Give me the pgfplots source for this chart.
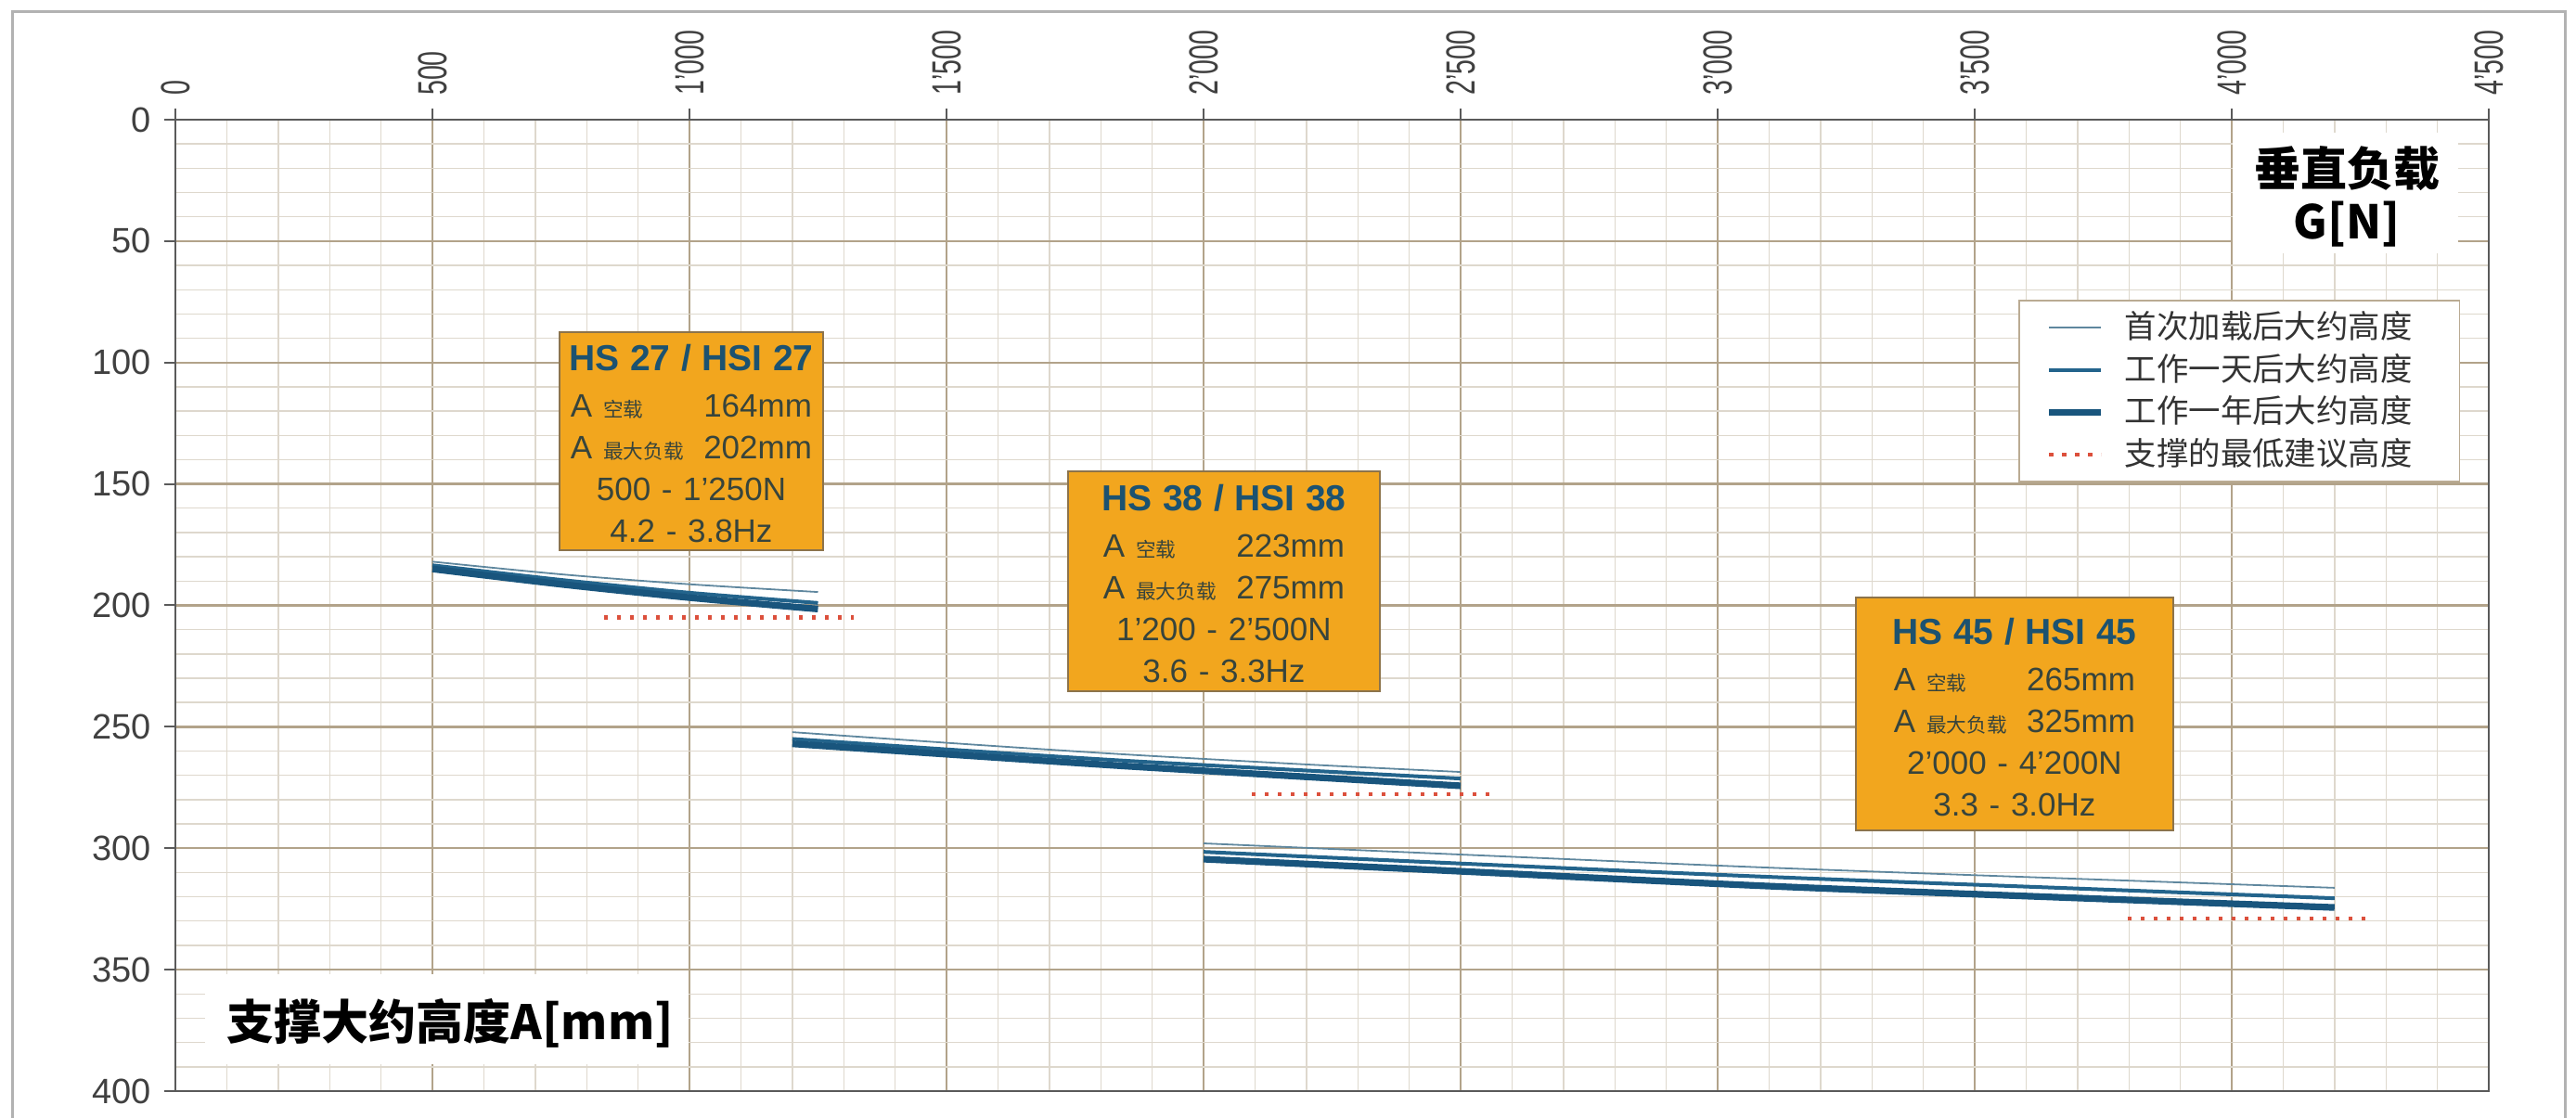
\documentclass[border=0pt]{standalone}
\usepackage{fontspec}
\setmainfont{Liberation Sans}
\newfontfamily\cjk{Noto Sans CJK SC}
\usepackage{graphicx}
\usepackage{pgfplots}
\pgfplotsset{compat=1.18}
\definecolor{gmaj}{RGB}{178,163,138}
\definecolor{gmin}{RGB}{222,216,205}
\definecolor{thinc}{RGB}{95,135,158}
\definecolor{medc}{RGB}{35,100,140}
\definecolor{thickc}{RGB}{25,85,125}
\definecolor{dotc}{RGB}{220,80,60}
\definecolor{boxor}{RGB}{242,166,30}
\definecolor{boxbd}{RGB}{140,115,75}
\definecolor{titc}{RGB}{28,82,112}
\definecolor{bodc}{RGB}{55,68,60}
\definecolor{framec}{RGB}{90,90,90}
\newcommand{\rowA}[2]{\leavevmode\hbox to 65pt{A\hspace{3pt}{\cjk\fontsize{5.4}{6}\selectfont #1}\hfil #2}}
\newcommand{\xl}[1]{\scalebox{0.65}[1]{#1}}
\newcommand{\boxtext}[5]{\mbox{\color{titc}\bfseries\fontsize{9.75}{11}\selectfont #1}\\[1.25pt]\rowA{空载}{#2}\\\rowA{最大负载}{#3}\\#4\\#5}
\begin{document}
\begin{tikzpicture}
\useasboundingbox (0,0) rectangle (694pt,301.25pt);
\draw[gray!60, line width=0.75pt] (3.25pt,-2pt) -- (3.25pt,298pt) -- (691pt,298pt) -- (691pt,-2pt);
\begin{axis}[
  at={(47.25pt,7.25pt)}, anchor=south west,
  scale only axis, width=623.25pt, height=261.75pt,
  xmin=0, xmax=4500, ymin=0, ymax=400, y dir=reverse,
  xtick={0,500,...,4500}, ytick={0,50,...,400},
  minor xtick={0,100,...,4500}, minor ytick={0,10,...,400},
  xticklabels={\xl{0},\xl{500},\xl{1'000},\xl{1'500},\xl{2'000},\xl{2'500},\xl{3'000},\xl{3'500},\xl{4'000},\xl{4'500}},
  yticklabels={0,50,100,150,200,250,300,350,400},
  grid=both,
  major grid style={gmaj, line width=0.6pt},
  minor grid style={gmin, line width=0.35pt},
  xtick pos=upper, xticklabel pos=upper, ytick pos=left,
  tick align=outside, major tick length=3pt, minor tick length=0pt,
  tick style={framec, line width=0.5pt},
  axis line style={framec, line width=0.7pt},
  xticklabel style={rotate=90, anchor=west, font=\fontsize{11}{12}\selectfont, text=black!75},
  yticklabel style={font=\fontsize{9.5}{11}\selectfont, text=black!75},
  legend image code/.code={\draw[#1] (0pt,0pt) -- (14pt,0pt);},
  legend style={at={(0.7966,0.8147)}, anchor=north west, draw=boxbd!60, fill=white,
    font=\cjk\fontsize{8.6}{9.5}\selectfont, text=black!80,
    inner xsep=7.25pt, inner ysep=2pt, row sep=0.6pt, column sep=4.5pt,
    nodes={inner sep=1pt}, cells={anchor=west}},
]
% group 1
\addplot[thinc, line width=0.45pt, smooth] coordinates {(500,182) (750,187.2) (1000,191.3) (1250,194.5)};
\addlegendentry{首次加载后大约高度\hspace*{4.5pt}}
\addplot[medc, line width=1pt, smooth] coordinates {(500,183.5) (750,189.5) (1000,194.8) (1250,199)};
\addlegendentry{工作一天后大约高度\hspace*{4.5pt}}
\addplot[thickc, line width=1.8pt, smooth] coordinates {(500,185) (750,191.3) (1000,196.8) (1250,201.5)};
\addlegendentry{工作一年后大约高度\hspace*{4.5pt}}
\addplot[dotc, line width=1.1pt, dash pattern=on 1.1pt off 2.4pt] coordinates {(834,205) (1319,205)};
\addlegendentry{支撑的最低建议高度\hspace*{4.5pt}}
% group 2
\addplot[thinc, line width=0.45pt, smooth, forget plot] coordinates {(1200,252.2) (1550,257.3) (1850,261.4) (2200,265.5) (2500,268.6)};
\addplot[medc, line width=1pt, smooth, forget plot] coordinates {(1200,255) (1550,260) (1850,264) (2200,268) (2500,271.3)};
\addplot[thickc, line width=1.8pt, smooth, forget plot] coordinates {(1200,257) (1550,262) (1850,266.2) (2200,270.6) (2500,274.3)};
\addplot[dotc, line width=1.1pt, dash pattern=on 1.1pt off 2.4pt, forget plot] coordinates {(2094,277.8) (2573,277.8)};
% group 3
\addplot[thinc, line width=0.45pt, smooth, forget plot] coordinates {(2000,298) (2500,302.6) (3100,308) (3700,312.6) (4200,316.3)};
\addplot[medc, line width=1pt, smooth, forget plot] coordinates {(2000,301.5) (2500,306.3) (3100,311.8) (3700,316.6) (4200,320.6)};
\addplot[thickc, line width=1.8pt, smooth, forget plot] coordinates {(2000,304.5) (2500,309.5) (3100,315.6) (3700,320.5) (4200,324.4)};
\addplot[dotc, line width=1.1pt, dash pattern=on 1.1pt off 2.4pt, forget plot] coordinates {(3797,329) (4276,329)};
% orange boxes
\draw[boxbd, fill=boxor, line width=0.5pt] (axis cs:747,87.5) rectangle (axis cs:1260,177.3);
\node[text width=67pt, align=center, inner sep=0pt, text=bodc, font=\fontsize{8.75}{11.25}\selectfont] at (axis cs:1003.6,133.5) {\boxtext{HS 27 / HSI 27}{164mm}{202mm}{500 - 1'250N}{4.2 - 3.8Hz}};
\draw[boxbd, fill=boxor, line width=0.5pt] (axis cs:1736.5,144.8) rectangle (axis cs:2343,235.3);
\node[text width=67pt, align=center, inner sep=0pt, text=bodc, font=\fontsize{8.75}{11.25}\selectfont] at (axis cs:2039.7,191) {\boxtext{HS 38 / HSI 38}{223mm}{275mm}{1'200 - 2'500N}{3.6 - 3.3Hz}};
\draw[boxbd, fill=boxor, line width=0.5pt] (axis cs:3269,196.8) rectangle (axis cs:3886,292.6);
\node[text width=67pt, align=center, inner sep=0pt, text=bodc, font=\fontsize{8.75}{11.25}\selectfont] at (axis cs:3577.5,246.2) {\boxtext{HS 45 / HSI 45}{265mm}{325mm}{2'000 - 4'200N}{3.3 - 3.0Hz}};
% white label boxes
\fill[white] (axis cs:4002,5.3) rectangle (axis cs:4440,55);
\node[align=center, inner sep=0pt, font=\cjk\bfseries\fontsize{12.5}{14.25}\selectfont] at (axis cs:4224,31.5) {垂直负载\\G[N]};
\fill[white] (axis cs:58,351.9) rectangle (axis cs:998,388.9);
\node[inner sep=0pt, font=\cjk\bfseries\fontsize{12.75}{14}\selectfont] at (axis cs:535,372) {支撑大约高度A[mm]};
\end{axis}
\end{tikzpicture}
\end{document}
